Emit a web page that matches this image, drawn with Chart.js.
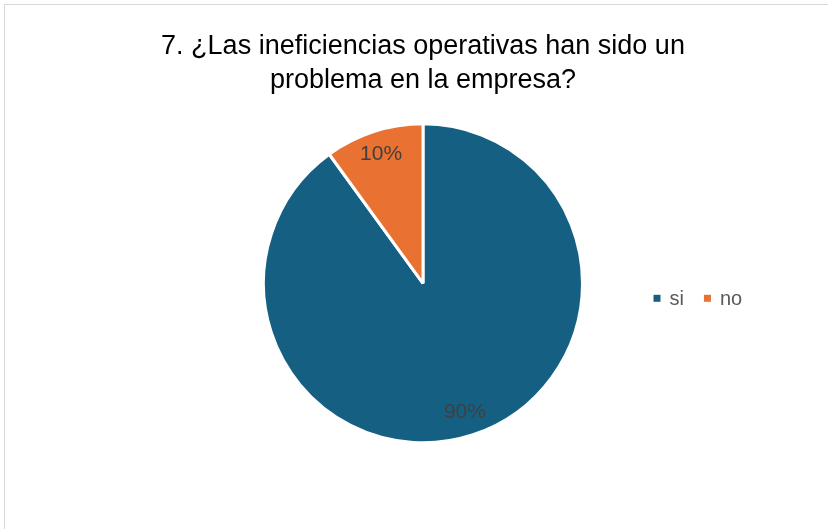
<!DOCTYPE html>
<html>
<head>
<meta charset="utf-8">
<script src="https://cdn.jsdelivr.net/npm/chart.js@4/dist/chart.umd.min.js"></script>
<style>
  body { margin: 0; background: #fff; overflow: hidden; }
  #cornice { position: absolute; left: 4px; top: 4px; width: 900px; height: 600px; border: 1px solid #d9d9d9; }
  #chart { position: absolute; left: 0; top: 0; }
</style>
</head>
<body>
<div id="cornice"></div>
<canvas id="chart" width="828" height="529"></canvas>
<script>
const titolo = ['7. ¿Las ineficiencias operativas han sido un', 'problema en la empresa?'];
const categorie = ['si', 'no'];
const valori = [90, 10];
const colori = ['#156082', '#E97132'];

// etichette percentuali dentro le fette
const etichette = {
  id: 'etichette',
  afterDatasetsDraw(chart) {
    const ctx = chart.ctx;
    const meta = chart.getDatasetMeta(0);
    const totale = valori.reduce((a, b) => a + b, 0);
    ctx.save();
    ctx.font = '21px "Liberation Sans", Arial, sans-serif';
    ctx.fillStyle = '#404040';
    ctx.textAlign = 'center';
    ctx.textBaseline = 'middle';
    meta.data.forEach((arc, i) => {
      const p = arc.getProps(['x', 'y', 'startAngle', 'endAngle', 'outerRadius'], true);
      const a = (p.startAngle + p.endAngle) / 2;
      const r = p.outerRadius * 0.85;
      ctx.fillText(Math.round(valori[i] / totale * 100) + '%', p.x + Math.cos(a) * r, p.y + Math.sin(a) * r);
    });
    ctx.restore();
  }
};

// legenda orizzontale a destra della torta
const legenda = {
  id: 'legenda',
  afterDraw(chart) {
    const ctx = chart.ctx;
    const arc = chart.getDatasetMeta(0).data[0];
    let x = arc.x + arc.outerRadius + 71;
    const y = arc.y + 15;
    ctx.save();
    ctx.font = '20px "Liberation Sans", Arial, sans-serif';
    ctx.textBaseline = 'middle';
    ctx.textAlign = 'left';
    categorie.forEach((c, i) => {
      ctx.fillStyle = colori[i];
      ctx.fillRect(x, y - 3.5, 7, 7);
      x += 16;
      ctx.fillStyle = '#595959';
      ctx.fillText(c, x, y + 1);
      x += ctx.measureText(c).width + 20;
    });
    ctx.restore();
  }
};

const chart = new Chart(document.getElementById('chart').getContext('2d'), {
  type: 'pie',
  data: {
    labels: categorie,
    datasets: [{
      data: valori,
      backgroundColor: colori,
      borderColor: '#ffffff',
      borderWidth: 3,
      radius: 159.5
    }]
  },
  options: {
    responsive: false,
    animation: false,
    layout: { padding: { top: 0, bottom: 70, left: 100, right: 82 } },
    plugins: {
      legend: { display: false },
      tooltip: { enabled: false },
      title: {
        display: true,
        text: titolo,
        color: '#000000',
        font: { family: '"Liberation Sans", Arial, sans-serif', size: 27, weight: 'normal', lineHeight: 1.27 },
        padding: { top: 29, bottom: 10 }
      }
    }
  },
  plugins: [etichette, legenda]
});
</script>
</body>
</html>
